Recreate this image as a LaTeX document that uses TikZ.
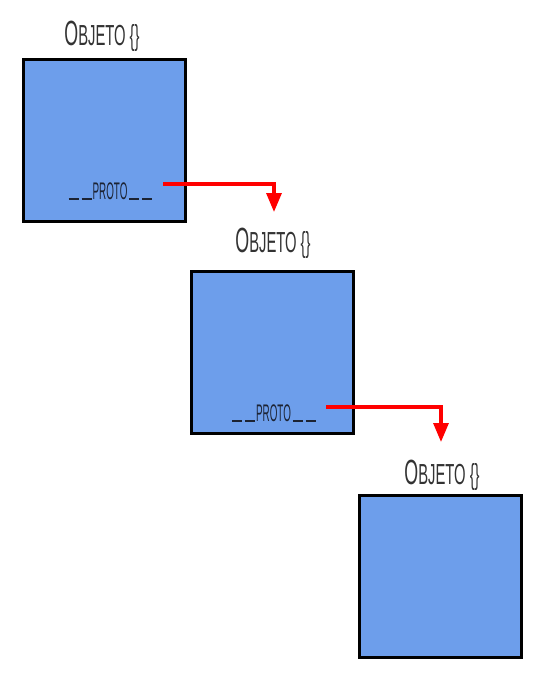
\documentclass[tikz,border=0pt]{standalone}
\usepackage{fontspec}
\usetikzlibrary{arrows.meta}
\newfontfamily\titlefont[FakeStretch=0.51]{Liberation Sans}
\newfontfamily\protofontb[FakeStretch=0.41]{Liberation Sans}
\definecolor{boxblue}{HTML}{6D9EEB}
\definecolor{txt}{HTML}{333333}
\definecolor{prototxt}{HTML}{1C2333}
\newcommand{\objlabel}{{\fontsize{35}{35}\selectfont O}\fontsize{29}{29}\selectfont BJETO \{\}}
\newcommand{\us}{\rule[-0.5pt]{10pt}{1.6pt}}
\newcommand{\protolabel}{\protofontb\fontsize{24}{24}\selectfont\us\kern3pt\us\kern1pt PROTO\kern2pt\us\kern3pt\us}
\begin{document}
\begin{tikzpicture}[x=1pt,y=-1pt,
  objbox/.style={draw=black,line width=3pt,fill=boxblue,minimum width=162pt,minimum height=162pt,inner sep=0pt,outer sep=0pt},
  objtitle/.style={anchor=base,text=txt,inner sep=0pt,font=\titlefont},
  protonode/.style={anchor=base,text=prototxt,inner sep=0pt},
  link/.style={draw=red,line width=3.2pt,-{Triangle[length=19pt,width=15pt]}}]
\useasboundingbox (0,0) rectangle (554,689);
% boxes
\node[objbox] (b1) at (104.5,140) {};
\node[objbox] (b2) at (272,352.5) {};
\node[objbox] (b3) at (440,576.5) {};
% titles
\node[objtitle] (l1) at (102,45) {\objlabel};
\node[objtitle] (l2) at (273,252) {\objlabel};
\node[objtitle] (l3) at (442,484) {\objlabel};
% proto labels
\node[protonode] (p1) at (110.5,199) {\protolabel};
\node[protonode] (p2) at (274,421) {\protolabel};
% connectors
\coordinate (s1) at (163,184);
\coordinate (t1) at (274,212);
\coordinate (s2) at (326,407);
\coordinate (t2) at (441,442);
\draw[link] (s1) -| (t1);
\draw[link] (s2) -| (t2);
\end{tikzpicture}
\end{document}
